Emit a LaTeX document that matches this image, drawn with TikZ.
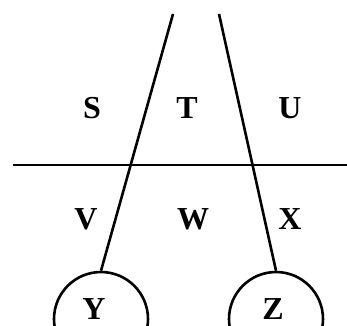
\documentclass[tikz,border=0pt]{standalone}
\usepackage{fontspec}
\setmainfont{Liberation Serif}
\begin{document}
\begin{tikzpicture}[x=1pt,y=-1pt,
  ln/.style={line width=2.6pt,black},
  lbl/.style={font=\fontsize{32}{32}\selectfont\bfseries,inner sep=0pt,text depth=0pt,anchor=center},
  circ/.style={circle,draw,line width=2.6pt,minimum size=94pt,inner sep=0pt}]
\clip (0,0) rectangle (347,325);
\useasboundingbox (0,0) rectangle (347,325);
\coordinate (ltop) at (173,14);
\coordinate (rtop) at (219,14);
\coordinate (hl) at (13,165);
\coordinate (hr) at (350,165);
\node[circ] (cy) at (101,319) {};
\node[circ] (cz) at (276,319) {};
\draw[ln] (hl) -- (hr);
\draw[ln] (ltop) -- (cy.north);
\draw[ln] (rtop) -- (cz.north);
\node[lbl] (s) at (92,108) {S};
\node[lbl] (t) at (187,108) {T};
\node[lbl] (u) at (290,108) {U};
\node[lbl] (v) at (86,219) {V};
\node[lbl] (w) at (193,219) {W};
\node[lbl] (x) at (290,219) {X};
\node[lbl] (y) at (94,309) {Y};
\node[lbl] (z) at (273,309) {Z};
\end{tikzpicture}
\end{document}
